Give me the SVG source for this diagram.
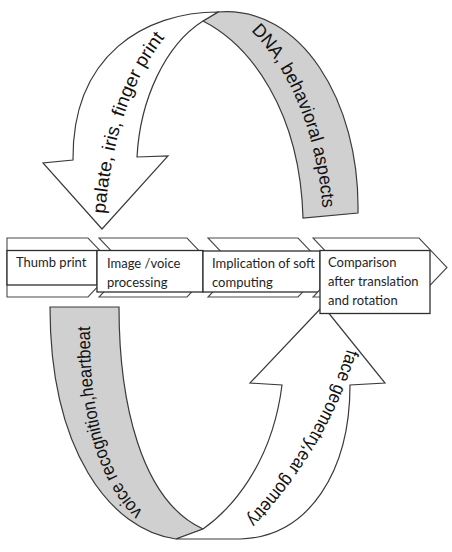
<svg xmlns="http://www.w3.org/2000/svg" width="452" height="552" viewBox="0 0 452 552">
<defs>
<style>
.band{stroke:#3a3a3a;stroke-width:1.2;stroke-linejoin:miter}
.w{fill:#ffffff}
.g{fill:#d0d0d0}
.chev{fill:#ffffff;stroke:#4a4a4a;stroke-width:1.1}
.box{fill:#ffffff;stroke:#2e2e2e;stroke-width:1.3}
.lbl{font-family:"Lato","Liberation Sans",sans-serif;font-size:13px;fill:#1e1e28}
.arr{font-family:"Liberation Sans Narrow","Liberation Sans",Arial,sans-serif;font-size:18.5px;fill:#111111}
</style>
<path id="pA" d="M 105,214 C 111,150 126,80 173,28"/>
<path id="pB" d="M 251,31 C 284,63 317,125 323,214"/>
<path id="pC" d="M 143,512 C 101,470 89,400 90,322"/>
<path id="pD" d="M 347,349 C 329,410 294,470 244,522"/>
</defs>
<rect width="452" height="552" fill="#ffffff"/>

<g id="connectors">
  <g id="arrow-top">
    <path class="band g" d="M 203,21 C 250,45 300,110 303,218 L 358,213 C 360,100 300,5 218,12 Z"/>
    <path class="band w" d="M 218,12 C 145,12 72,55 73,160 L 43,163 L 102,229 L 168,156 L 137,157 C 140,100 165,45 203,21 Z"/>
    <text class="arr"><textPath href="#pA" textLength="189" lengthAdjust="spacingAndGlyphs">palate, iris, finger print</textPath></text>
    <text class="arr"><textPath href="#pB" textLength="195" lengthAdjust="spacingAndGlyphs">DNA, behavioral aspects</textPath></text>
  </g>
  <g id="arrow-bottom">
    <path class="band g" d="M 50,307 L 119,307 C 119,400 140,500 203,529 L 176,539 C 110,530 50,450 50,307 Z"/>
    <path class="band w" d="M 203,529 C 230,510 272,465 282,385 L 250,383 L 323,306 L 385,383 L 350,385 C 350,470 310,537 240,539 L 176,539 Z"/>
    <text class="arr"><textPath href="#pC" textLength="198" lengthAdjust="spacingAndGlyphs">voice recognition,heartbeat</textPath></text>
    <text class="arr"><textPath href="#pD" textLength="200" lengthAdjust="spacingAndGlyphs">face geometry,ear gometry</textPath></text>
  </g>
</g>

<g id="step1">
  <path class="chev" d="M 7,238 L 88,238 L 116,267.5 L 88,297 L 7,297 Z"/>
  <rect class="box" x="7" y="250.5" width="90" height="34.5"/>
  <text class="lbl" x="16" y="267">Thumb print</text>
</g>
<g id="step2">
  <path class="chev" d="M 99,238 L 187,238 L 215,267.5 L 187,297 L 99,297 L 127,267.5 Z"/>
  <rect class="box" x="97" y="250.5" width="106" height="41.5"/>
  <text class="lbl" x="107" y="267.5">Image /voice</text>
  <text class="lbl" x="107" y="287">processing</text>
</g>
<g id="step3">
  <path class="chev" d="M 208,238 L 298,238 L 326,267.5 L 298,297 L 208,297 L 236,267.5 Z"/>
  <rect class="box" x="203" y="251" width="117" height="41"/>
  <text class="lbl" x="212" y="267.5">Implication of soft</text>
  <text class="lbl" x="212" y="287">computing</text>
</g>
<g id="step4">
  <path class="chev" d="M 313,238 L 419,238 L 447,267.5 L 419,297 L 313,297 L 341,267.5 Z"/>
  <rect class="box" x="320" y="250.5" width="110" height="63"/>
  <text class="lbl" x="328" y="266.5">Comparison</text>
  <text class="lbl" x="328" y="286">after translation</text>
  <text class="lbl" x="328" y="305">and rotation</text>
</g>
</svg>
